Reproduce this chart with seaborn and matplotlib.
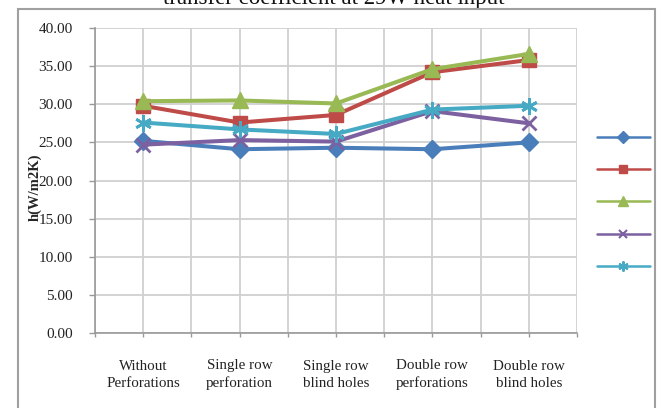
import matplotlib
matplotlib.use("Agg")
import matplotlib.pyplot as plt
import seaborn as sns
import pandas as pd
from matplotlib.patches import Rectangle
from matplotlib.lines import Line2D

categories = ["Without\nPerforations", "Single row\nperforation", "Single row\nblind holes",
              "Double row\nperforations", "Double row\nblind holes"]
series_names = ["Series1", "Series2", "Series3", "Series4", "Series5"]
s1 = [25.2, 24.1, 24.3, 24.1, 25.0]
s2 = [29.8, 27.6, 28.6, 34.2, 35.8]
s3 = [30.4, 30.5, 30.1, 34.6, 36.6]
s4 = [24.7, 25.3, 25.1, 29.1, 27.5]
s5 = [27.6, 26.7, 26.1, 29.3, 29.8]
y_ticks = [0, 5, 10, 15, 20, 25, 30, 35, 40]
title = "transfer coefficient at 29W heat input"
ylabel = "h(W/m2K)"

colors = ["#4A7EBB", "#BE4B48", "#98B954", "#7D60A0", "#46AAC5"]
markers = ["D", "s", "^", "x", (6, 2, 0)]
msizes = [9.5, 10.5, 11.5, 10, 12]

sns.set_style("white")
plt.rcParams["font.family"] = ["Liberation Serif", "DejaVu Serif"]

fig = plt.figure(figsize=(6.61, 4.08), dpi=100)
ax = fig.add_axes([95 / 661, 1 - 333 / 408, 482 / 661, 305 / 408])

all_series = [s1, s2, s3, s4, s5]
for name, vals, c, m, ms in zip(series_names, all_series, colors, markers, msizes):
    df = pd.DataFrame({"cat": categories, "h": vals})
    sns.lineplot(data=df, x="cat", y="h", color=c, marker=m, markersize=ms,
                 markeredgecolor=c, markerfacecolor=c,
                 markeredgewidth=2.0 if m == "x" or isinstance(m, tuple) else 1.0,
                 linewidth=2.9, sort=False, ax=ax, label=name, legend=False)

ax.set_xlim(-0.5, 4.5)
ax.set_ylim(0, 40)
ax.set_yticks(y_ticks)
ax.set_yticklabels([f"{v:.2f}" for v in y_ticks], fontsize=11, color="#222222")
ax.set_xticks(range(len(categories)))
ax.set_xticklabels(categories, fontsize=10.8, color="#222222", linespacing=1.38)
for lab in ax.get_xticklabels():
    lab.set_verticalalignment("baseline")
ax.set_xticks([i - 0.5 for i in range(len(categories) + 1)], minor=True)
ax.set_xlabel("")
ax.set_ylabel(ylabel, fontsize=10.5, fontweight="bold")
ax.yaxis.set_label_coords((42 - 95) / 482, (333 - 187) / 305)

grid_c = "#D0D0D0"
for v in y_ticks:
    ax.axhline(v, color=grid_c, lw=1.3, zorder=0)
for i in range(len(categories)):
    ax.axvline(i, color=grid_c, lw=1.3, zorder=0)
    ax.axvline(i - 0.5, color=grid_c, lw=1.3, zorder=0)
ax.axvline(len(categories) - 0.5, color=grid_c, lw=1.3, zorder=0)

for sp in ["top", "right"]:
    ax.spines[sp].set_visible(False)
for sp in ["left", "bottom"]:
    ax.spines[sp].set_color("#999999")
    ax.spines[sp].set_linewidth(1.2)
ax.tick_params(axis="y", which="major", length=4, width=1, color="#999999", pad=12, left=True)
ax.tick_params(axis="x", which="major", length=3, width=1, color="#999999", pad=36, bottom=True)
ax.tick_params(axis="x", which="minor", length=3, width=1, color="#999999", bottom=True)

# legend (labels fall outside the chart area, as in the reference)
handles = [Line2D([], [], color=c, marker=m, markersize=ms * 0.6, lw=1.8,
                  markeredgecolor=c, markerfacecolor=c,
                  markeredgewidth=1.5 if m == "x" or isinstance(m, tuple) else 1.0)
           for c, m, ms in zip(colors, markers, msizes)]
fig.legend(handles, series_names, loc="upper left", bbox_to_anchor=(597 / 661, 1 - 132 / 408),
           frameon=False, fontsize=10, handlelength=3.8, handletextpad=0.8,
           labelspacing=1.38, borderpad=0, borderaxespad=0)

# chart area border
fig.patches.append(Rectangle((18 / 661, -0.05), (655 - 18) / 661, 1.05 - 9 / 408,
                             transform=fig.transFigure, fill=False, edgecolor="#A0A0A0",
                             lw=1.5, zorder=10))
fig.patches.append(Rectangle((655.8 / 661, 0), 6 / 661, 1, transform=fig.transFigure,
                             facecolor="white", edgecolor="none", zorder=9))

fig.text(334 / 661, 1 - 4 / 408, title, ha="center", va="baseline", fontsize=16.5, color="#111111")

fig.savefig("out.png", dpi=100)
